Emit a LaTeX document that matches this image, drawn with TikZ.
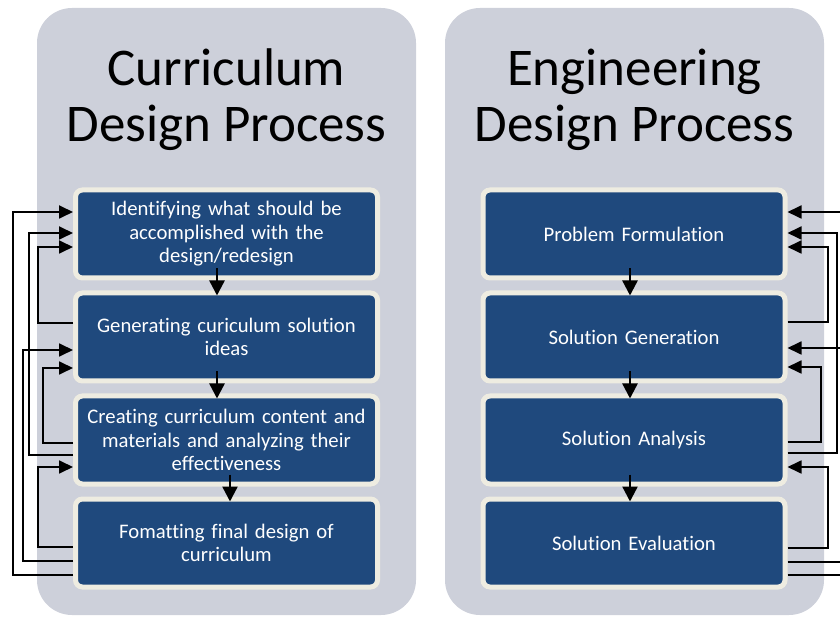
\documentclass[tikz,border=0pt]{standalone}
\usepackage{fontspec}
\setmainfont{Carlito}[Ligatures=NoCommon]
\usetikzlibrary{arrows.meta,positioning}

\definecolor{panelgray}{RGB}{205,208,218}
\definecolor{stepblue}{RGB}{31,73,125}
\definecolor{stepedge}{RGB}{238,236,225}

\tikzset{
  panel/.style={fill=panelgray,rounded corners=35pt},
  title/.style={font=\fontsize{53}{56}\selectfont,align=center,anchor=base},
  stage/.style={fill=stepblue,draw=stepedge,line width=5pt,rounded corners=7pt,%
    minimum width=302pt,minimum height=88pt,text width=288pt,align=center,%
    text=white,font=\fontsize{20.7}{23.5}\selectfont},
  down/.style={-{Triangle[length=15pt,width=15pt]},line width=2.4pt},
  back/.style={-{Triangle[length=14pt,width=13pt]},line width=1.8pt},
}

\begin{document}
\begin{tikzpicture}[x=1pt,y=1pt,node distance=10pt]
\path[use as bounding box,clip] (0,0) rectangle (840,616);

% two background panels
\fill[panel] (37,1) rectangle (416,608);
\fill[panel] (445,1) rectangle (824,608);

% base anchor sits on the second line
\node[title] (ctitle) at (226.5,474) {Curriculum\\Design Process};
\node[title] (etitle) at (634.5,474) {Engineering\\Design Process};

% curriculum steps
\node[stage] (c1) at (226.5,382) {Identifying what should be\\accomplished with the\\design/redesign};
\node[stage,below=of c1] (c2) {Generating curiculum solution\\ideas};
\node[stage,below=of c2] (c3) {Creating curriculum content and\\materials and analyzing their\\effectiveness};
\node[stage,below=of c3] (c4) {Fomatting final design of\\curriculum};

% engineering steps
\node[stage] (e1) at (634,382) {Problem Formulation};
\node[stage,below=of e1] (e2) {Solution Generation};
\node[stage,below=of e2] (e3) {Solution Analysis};
\node[stage,below=of e3] (e4) {Solution Evaluation};

% forward flow
\draw[down] ([shift={(-9.5pt,12pt)}]c1.south) -- ([shift={(-9.5pt,-5pt)}]c2.north);
\draw[down] ([shift={(-9.5pt,12pt)}]c2.south) -- ([shift={(-9.5pt,-5pt)}]c3.north);
\draw[down] ([shift={(3.5pt,12pt)}]c3.south) -- ([shift={(3.5pt,-5pt)}]c4.north);
\draw[down] ([shift={(-4pt,12pt)}]e1.south) -- ([shift={(-4pt,-5pt)}]e2.north);
\draw[down] ([shift={(-4pt,12pt)}]e2.south) -- ([shift={(-4pt,-5pt)}]e3.north);
\draw[down] ([shift={(-4pt,12pt)}]e3.south) -- ([shift={(-4pt,-5pt)}]e4.north);

% iteration loops, left side
\draw[back] (c4.west |- 0,41) -- (13,41) |- (c1.west |- 0,404);
\draw[back] (c3.west |- 0,161) -- (29,161) |- (c1.west |- 0,383);
\draw[back] (c2.west |- 0,293) -- (38,293) |- (c1.west |- 0,369);
\draw[back] (c4.west |- 0,55) -- (23,55) |- (c2.west |- 0,266);
\draw[back] (c3.west |- 0,173) -- (43,173) |- (c2.west |- 0,248);
\draw[back] (c4.west |- 0,69) -- (38,69) |- (c3.west |- 0,149);

% iteration loops, right side
\draw[back] (e4.east |- 0,41) -- (856,41) |- (e1.east |- 0,404);
\draw[back] (e3.east |- 0,163) -- (837,163) |- (e1.east |- 0,383);
\draw[back] (e2.east |- 0,294) -- (828,294) |- (e1.east |- 0,369);
\draw[back] (e4.east |- 0,54) -- (848,54) |- (e2.east |- 0,268);
\draw[back] (e3.east |- 0,174) -- (821,174) |- (e2.east |- 0,249);
\draw[back] (e4.east |- 0,68) -- (828,68) |- (e3.east |- 0,149);
\end{tikzpicture}
\end{document}
